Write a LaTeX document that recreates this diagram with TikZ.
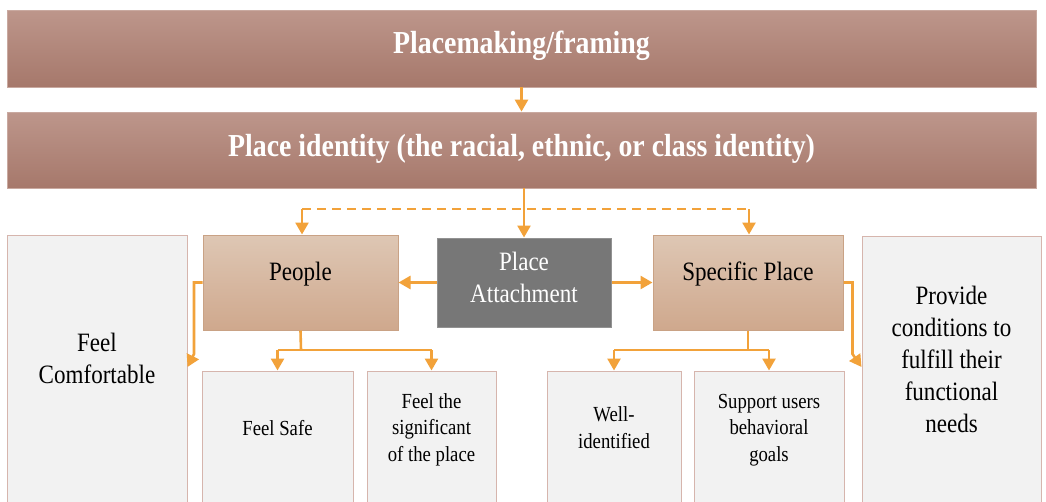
\documentclass[tikz,border=0pt]{standalone}
\usepackage{fontspec}
\setmainfont{Liberation Serif}
\newfontfamily\cond[FakeStretch=0.87]{Liberation Serif}
\usetikzlibrary{arrows.meta}
\definecolor{bantop}{HTML}{BD968B}
\definecolor{banbot}{HTML}{A6786B}
\definecolor{banline}{HTML}{C9A9A0}
\definecolor{tantop}{HTML}{DEC7B4}
\definecolor{tanbot}{HTML}{CFA88D}
\definecolor{tanline}{HTML}{C9A285}
\definecolor{pagray}{HTML}{777777}
\definecolor{paline}{HTML}{929292}
\definecolor{boxfill}{HTML}{F2F2F2}
\definecolor{boxline}{HTML}{D6B5AD}
\definecolor{orng}{HTML}{F2A23A}
\begin{document}
\begin{tikzpicture}[x=1pt,y=-1pt,
  banner/.style={draw=banline, line width=0.8pt, top color=bantop, bottom color=banbot,
    minimum width=1029pt, inner sep=0pt},
  tanbox/.style={draw=tanline, line width=1pt, top color=tantop, bottom color=tanbot,
    minimum width=#1, minimum height=95pt, inner sep=0pt},
  pabox/.style={draw=paline, line width=1pt, fill=pagray, minimum width=174pt,
    minimum height=89pt, inner sep=0pt},
  wbox/.style={draw=boxline, line width=1pt, fill=boxfill, minimum width=#1, inner sep=0pt},
  bantext/.style={anchor=base, text=white, inner sep=0pt,
    font=\cond\bfseries\fontsize{32}{38}\selectfont},
  bigtext/.style={anchor=base, align=center, inner sep=0pt,
    font=\cond\fontsize{26.5}{32}\selectfont},
  smalltext/.style={anchor=base, align=center, inner sep=0pt,
    font=\cond\fontsize{21.5}{26.5}\selectfont},
  arr/.style={draw=orng, line width=2.6pt, -{Triangle[width=13pt,length=12pt]}},
  conn/.style={draw=orng, line width=2.6pt},
  dsh/.style={draw=orng, line width=2.6pt, dash pattern=on 9pt off 6pt}
]
\clip (0,0) rectangle (1046,501);
\fill[white] (0,0) rectangle (1046,501);

% banners
\node[banner, minimum height=77pt] (b1) at (521.5,48.5) {};
\node[bantext] (b1t) at (521.5,53) {Placemaking/framing};
\node[banner, minimum height=76pt] (b2) at (521.5,150) {};
\node[bantext] (b2t) at (521.5,156) {Place identity (the racial, ethnic, or class identity)};

% middle row
\node[tanbox=195pt] (people) at (300.5,282.5) {};
\node[bigtext] (peoplet) at (300.5,280) {People};
\node[pabox] (pa) at (524,282.5) {};
\node[bigtext, text=white] (pat) at (524,302.5) {Place\\Attachment};
\node[tanbox=190pt] (sp) at (748,282.5) {};
\node[bigtext] (spt) at (748,280) {Specific Place};

% side boxes
\node[wbox=180pt, minimum height=290pt] (fc) at (97,380) {};
\node[bigtext] (fct) at (97,383) {Feel\\Comfortable};
\node[wbox=179pt, minimum height=290pt] (pr) at (951.5,381) {};
\node[bigtext] (prt) at (951.5,432) {Provide\\conditions to\\fulfill their\\functional\\needs};

% bottom boxes
\node[wbox=151pt, minimum height=150pt] (fs) at (277.5,446) {};
\node[smalltext] (fst) at (277.5,435.5) {Feel Safe};
\node[wbox=129pt, minimum height=150pt] (fsig) at (431.5,446) {};
\node[smalltext] (fsigt) at (431.5,461) {Feel the\\significant\\of the place};
\node[wbox=134pt, minimum height=150pt] (wi) at (614,446) {};
\node[smalltext] (wit) at (614,448) {Well-\\identified};
\node[wbox=150pt, minimum height=150pt] (su) at (769,446) {};
\node[smalltext] (sut) at (769,461) {Support users\\behavioral\\goals};

% connectors
\draw[arr] (b1.south) -- (b2.north);
\coordinate (dl) at (302,209);
\coordinate (dr) at (749,209);
\draw[dsh] (dl) -- (dr);
\draw[arr] (dl) -- (dl |- people.north);
\draw[arr] (dr) -- (dr |- sp.north);
\draw[arr] (b2.south -| pa.north) -- (pa.north);
\draw[arr] (pa.west) -- (people.east);
\draw[arr] (pa.east) -- (sp.east -| sp.west);

\draw[arr] (people.west) -- (194,282.5) -- (194,354) -- (187.5,367);
\draw[arr] (sp.east) -- (852.5,282.5) -- (852.5,354) -- (861.5,367);

\draw[conn] (people.south) -- (301,350);
\draw[conn] (fs.north |- 0,350) -- (fsig.north |- 0,350);
\draw[arr] (fs.north |- 0,350) -- (fs.north);
\draw[arr] (fsig.north |- 0,350) -- (fsig.north);

\draw[conn] (sp.south) -- (748,350);
\draw[conn] (wi.north |- 0,350) -- (su.north |- 0,350);
\draw[arr] (wi.north |- 0,350) -- (wi.north);
\draw[arr] (su.north |- 0,350) -- (su.north);
\end{tikzpicture}
\end{document}
